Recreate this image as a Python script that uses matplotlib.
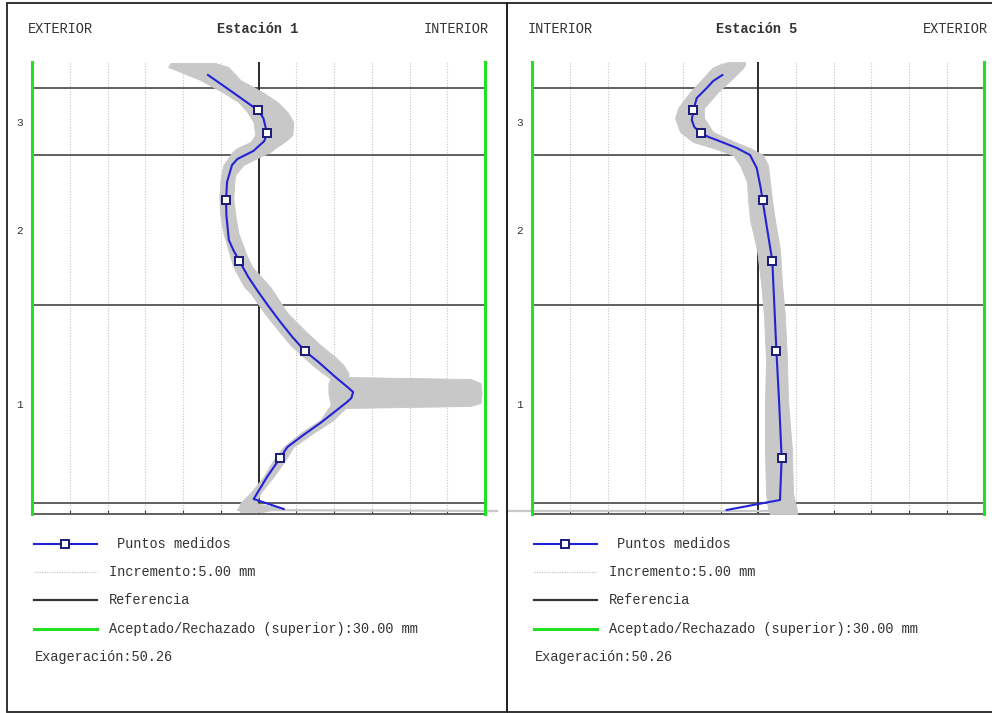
import matplotlib.pyplot as plt
from matplotlib.lines import Line2D
from matplotlib.patches import Rectangle

plt.rcParams['font.family'] = ['Liberation Mono', 'DejaVu Sans Mono']

# alturas de los puntos medidos (comunes a las dos estaciones)
alturas_puntos = [4.04, 3.81, 3.14, 2.53, 1.63, 0.56]

# ---- Estacion 1 ----
e1_curva_x = [-6.71, -3.49, -0.13, 0.62, 1.11, 0.75, -0.70, -2.82, -3.53, -4.19, -4.32, -4.28,
              -3.95, -3.36, -2.56, -1.37, -0.04, 1.29, 2.88, 4.47, 6.13, 7.92, 10.17, 11.76,
              12.52, 12.29, 11.72, 10.04, 8.18, 5.93, 3.81, 2.84, 1.11, -0.66, 3.32]
e1_curva_y = [4.39, 4.22, 4.04, 3.96, 3.81, 3.73, 3.63, 3.55, 3.49, 3.32, 3.14, 2.99,
              2.74, 2.64, 2.53, 2.37, 2.22, 2.08, 1.92, 1.77, 1.63, 1.52, 1.37, 1.27,
              1.22, 1.16, 1.12, 1.02, 0.91, 0.79, 0.67, 0.56, 0.37, 0.15, 0.05]
e1_puntos_x = [-0.13, 1.11, -4.32, -2.56, 6.13, 2.84]

e1_banda_y = [4.51, 4.47, 4.34, 4.22, 4.12, 4.02, 3.92, 3.79, 3.72, 3.66, 3.62, 3.56, 3.49, 3.39,
              3.32, 3.16, 2.99, 2.81, 2.57, 2.47, 2.27, 2.21, 2.01, 1.81, 1.69, 1.57, 1.49, 1.41,
              1.37, 1.35, 1.31, 1.21, 1.11, 1.08, 1.06, 0.94, 0.81, 0.67, 0.54, 0.37, 0.21, 0.11,
              0.06, 0.02]
e1_banda_izq = [-11.71, -11.98, -7.73, -4.81, -2.69, -1.50, -0.70, -0.44, -1.10, -2.82, -3.49,
                -4.02, -4.68, -4.95, -5.08, -5.21, -5.08, -4.68, -3.75, -3.36, -1.90, -1.10, 0.76,
                2.88, 4.20, 5.93, 7.12, 8.45, 9.24, 9.51, 9.24, 9.24, 9.51, 9.51, 9.24, 8.18, 5.53,
                3.28, 1.95, 0.62, -1.10, -2.43, -2.69, -2.43]
e1_banda_der = [-5.74, -4.02, -2.43, 0.49, 2.48, 3.81, 4.60, 4.47, 3.41, 2.21, 1.55, -0.17, -2.03,
                -3.09, -3.22, -3.36, -3.09, -2.69, -1.50, -0.84, 1.55, 2.08, 3.81, 6.46, 8.18,
                10.17, 11.23, 11.90, 11.90, 28.08, 29.41, 29.54, 29.41, 28.08, 11.50, 9.91, 7.25,
                4.60, 3.54, 1.95, 0.23, -0.31, 2.88, 0.49]
e1_ruido_x = [-2.69, 31.6]
e1_ruido_y = [0.04, 0.03]

# ---- Estacion 5 ----
e5_curva_x = [-4.77, -5.99, -6.84, -8.17, -8.62, -8.83, -8.50, -7.64, -6.60, -5.52, -2.86, -1.10,
              -0.21, 0.32, 0.56, 1.86, 2.41, 2.75, 3.10, 2.88, 0.00, -4.19]
e5_curva_y = [4.39, 4.33, 4.26, 4.16, 4.04, 3.94, 3.87, 3.81, 3.77, 3.74, 3.66, 3.59,
              3.46, 3.26, 3.14, 2.53, 1.62, 1.14, 0.56, 0.14, 0.10, 0.04]
e5_puntos_x = [-8.62, -7.64, 0.56, 1.86, 2.41, 3.10]

e5_banda_y = [4.52, 4.49, 4.46, 4.36, 4.22, 4.06, 3.96, 3.82, 3.72, 3.66, 3.59, 3.49, 3.32, 3.14,
              2.94, 2.64, 2.31, 1.97, 1.54, 1.14, 0.64, 0.21, 0.04, 0.00]
e5_banda_izq = [-4.02, -5.35, -6.14, -7.33, -9.06, -10.65, -11.05, -10.38, -8.66, -6.01, -3.36,
                -2.43, -1.50, -1.37, -1.10, -0.17, 0.36, 0.76, 1.02, 0.89, 0.89, 1.02, 1.29, 1.55]
e5_banda_der = [-1.76, -1.76, -2.03, -3.36, -5.35, -7.20, -7.20, -6.01, -3.09, -1.10, 0.62, 1.29,
                1.55, 1.82, 2.21, 2.88, 3.14, 3.54, 3.81, 3.94, 4.47, 4.60, 5.13, 5.13]
e5_ruido_x = [-33.3, 1.55]
e5_ruido_y = [0.035, 0.035]

# lineas horizontales de referencia y tramos
lineas_h = [0.11, 2.09, 3.59, 4.26]
tramos_y = [1.10, 2.84, 3.925]
tramos_txt = ['1', '2', '3']
incremento = 5.0
limite = 30.0
altura_max = 4.52

gris = '#c8c8c8'
azul = '#2323d6'
verde = '#22e022'
fs = 9.8


def panel(ax, cx, cy, px, bx_i, bx_d, by, rx, ry):
    for v in range(-25, 26, 5):
        if v != 0:
            ax.axvline(v, color='#c4c4c4', lw=0.8, ls=(0, (1, 1.5)), zorder=1)
    for h in lineas_h:
        ax.axhline(h, color='#606060', lw=1.4, zorder=2)
    ax.axvline(0, color='#2a2a2a', lw=1.4, zorder=2)
    ax.fill_betweenx(by, bx_i, bx_d, color=gris, lw=0.6, edgecolor=gris, zorder=3)
    ax.plot(rx, ry, color=gris, lw=1.6, zorder=3, clip_on=False)
    ax.plot(cx, cy, color=azul, lw=1.5, zorder=4, solid_joinstyle='round')
    ax.plot(px, alturas_puntos, ls='none', marker='s', ms=5.5, mfc='white',
            mec='#1a1a7a', mew=1.4, zorder=5)
    ax.plot([-limite, -limite], [0, altura_max], color=verde, lw=2.2, zorder=6, clip_on=False)
    ax.plot([limite, limite], [0, altura_max], color=verde, lw=2.2, zorder=6, clip_on=False)
    ax.set_xlim(-limite, limite)
    ax.set_ylim(0, altura_max)
    for s in ['top', 'left', 'right']:
        ax.spines[s].set_visible(False)
    ax.spines['bottom'].set_color('#606060')
    ax.spines['bottom'].set_linewidth(1.4)
    ax.set_xticks(range(-30, 31, 5))
    ax.tick_params(axis='x', direction='in', length=3, color='#404040', labelbottom=False)
    ax.set_yticks(tramos_y)
    ax.set_yticklabels(tramos_txt, fontsize=8, color='#333333')
    ax.tick_params(axis='y', length=0, pad=7)
    ax.patch.set_alpha(0)


fig = plt.figure(figsize=(9.92, 7.13), dpi=100)
W, H = 992.0, 713.0

ax1 = fig.add_axes([32.3 / W, (H - 514) / H, 452.7 / W, 452 / H])
ax2 = fig.add_axes([532.3 / W, (H - 514) / H, 452 / W, 452 / H])

panel(ax1, e1_curva_x, e1_curva_y, e1_puntos_x, e1_banda_izq, e1_banda_der, e1_banda_y,
      e1_ruido_x, e1_ruido_y)
panel(ax2, e5_curva_x, e5_curva_y, e5_puntos_x, e5_banda_izq, e5_banda_der, e5_banda_y,
      e5_ruido_x, e5_ruido_y)

# encabezados
encabezados = [(60, 'EXTERIOR', 'normal'), (258, 'Estación 1', 'bold'), (456, 'INTERIOR', 'normal'),
               (560, 'INTERIOR', 'normal'), (757, 'Estación 5', 'bold'), (955, 'EXTERIOR', 'normal')]
for x, t, w in encabezados:
    fig.text(x / W, 1 - 29 / H, t, ha='center', va='center', fontsize=fs, fontweight=w,
             color='#333333')

# leyendas
for dx in [0, 500]:
    y0 = 544
    fig.add_artist(Line2D([(34 + dx) / W, (97 + dx) / W], [1 - y0 / H, 1 - y0 / H], color=azul,
                          lw=1.5))
    fig.add_artist(Line2D([(65 + dx) / W], [1 - y0 / H], marker='s', ms=5.5, mfc='white',
                          mec='#1a1a7a', mew=1.4))
    fig.text((117 + dx) / W, 1 - y0 / H, 'Puntos medidos', va='center', fontsize=fs,
             color='#333333')
    y1 = 572
    fig.add_artist(Line2D([(34 + dx) / W, (97 + dx) / W], [1 - y1 / H, 1 - y1 / H],
                          color='#c8c8c8', lw=0.9, ls=(0, (1, 1))))
    fig.text((109 + dx) / W, 1 - y1 / H, 'Incremento:%.2f mm' % incremento, va='center',
             fontsize=fs, color='#333333')
    y2 = 600
    fig.add_artist(Line2D([(34 + dx) / W, (97 + dx) / W], [1 - y2 / H, 1 - y2 / H],
                          color='#333333', lw=1.6))
    fig.text((109 + dx) / W, 1 - y2 / H, 'Referencia', va='center', fontsize=fs, color='#333333')
    y3 = 629
    fig.add_artist(Line2D([(34 + dx) / W, (97 + dx) / W], [1 - y3 / H, 1 - y3 / H],
                          color=verde, lw=2.2))
    fig.text((109 + dx) / W, 1 - y3 / H, 'Aceptado/Rechazado (superior):%.2f mm' % limite,
             va='center', fontsize=fs, color='#333333')
    fig.text((35 + dx) / W, 1 - 657 / H, 'Exageración:50.26', va='center', fontsize=fs,
             color='#333333')

# marcos
fig.add_artist(Rectangle((7 / W, 1 - 712 / H), 500 / W, 709 / H, transform=fig.transFigure,
                         fill=False, ec='#222222', lw=1.3))
fig.add_artist(Rectangle((507 / W, 1 - 712 / H), 490 / W, 709 / H, transform=fig.transFigure,
                         fill=False, ec='#222222', lw=1.3))

plt.savefig('out.png', dpi=100)
